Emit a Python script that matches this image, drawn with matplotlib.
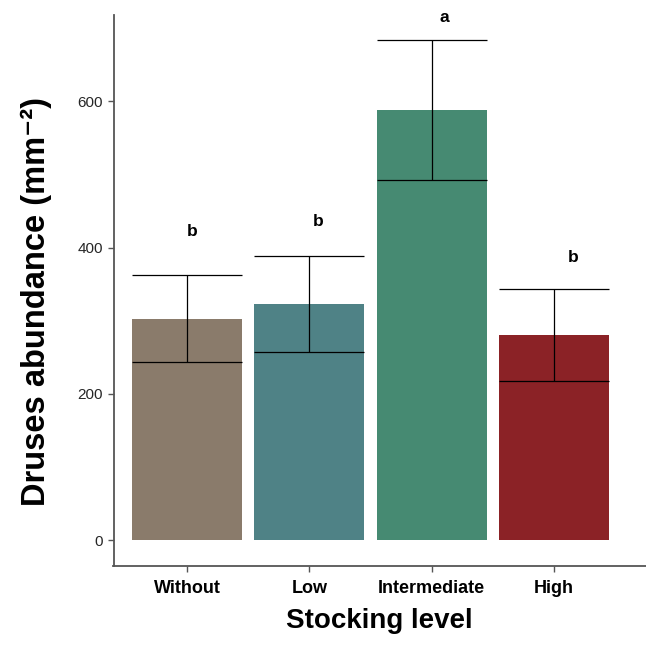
import matplotlib
matplotlib.use("Agg")
import matplotlib.pyplot as plt
import numpy as np

plt.rcParams['font.family'] = ['Liberation Sans', 'DejaVu Sans']

# druse abundance by stocking level (mean and error)
levels = ['Without', 'Low', 'Intermediate', 'High']
means = [303, 323, 588, 280]
errors = [59, 66, 96, 63]
letters = ['b', 'b', 'a', 'b']
letter_y = [422, 435, 715, 386]
letter_dx = [0.04, 0.07, 0.10, 0.155]
colors = ['#8a7b6b', '#4f8286', '#468a72', '#8b2226']

fig = plt.figure(figsize=(6.46, 6.46), dpi=100)
ax = fig.add_axes([113.5 / 646, (646 - 565.7) / 646, (646 - 113.5) / 646, (565.7 - 15) / 646])

x = np.arange(len(levels))
ax.bar(x, means, width=0.9, color=colors, zorder=1)
ax.errorbar(x, means, yerr=errors, fmt='none', ecolor='black', elinewidth=0.9,
            capsize=39.6, capthick=0.9, zorder=2)

for xi, lab, ly, dx in zip(x, letters, letter_y, letter_dx):
    ax.text(xi + dx, ly, lab, ha='center', va='center', fontsize=12.5, fontweight='bold')

ax.set_xlim(-0.6, 3.75)
ax.set_ylim(-35, 718)
ax.set_xticks(x)
ax.set_xticklabels(levels, fontsize=13, fontweight='bold')
ax.set_yticks([0, 200, 400, 600])
ax.tick_params(axis='y', labelsize=11, labelcolor='#262626', color='#555555', length=4, width=1)
ax.tick_params(axis='x', color='#555555', length=4, width=1, pad=6)

for side in ['top', 'right']:
    ax.spines[side].set_visible(False)
for side in ['left', 'bottom']:
    ax.spines[side].set_color('#555555')
    ax.spines[side].set_linewidth(1.3)

ax.set_xlabel('Stocking level', fontsize=20, fontweight='bold', labelpad=8)
ax.set_ylabel('Druses abundance (mm\u207b\u00b2)', fontsize=23.5, fontweight='bold', va='center')
ax.yaxis.set_label_coords(-0.145, 0.48)

fig.savefig('out.png', dpi=100)
